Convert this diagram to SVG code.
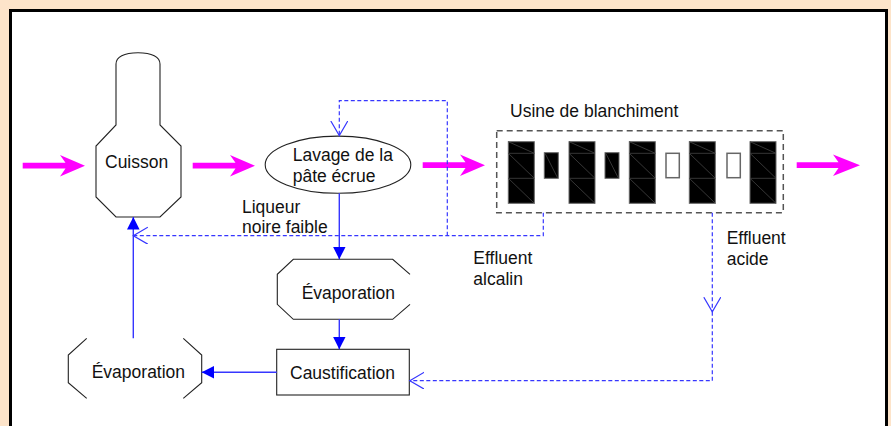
<svg xmlns="http://www.w3.org/2000/svg" width="891" height="426" viewBox="0 0 891 426">
<style>
text{font-family:"Liberation Sans",Arial,sans-serif;font-size:17.5px;fill:#111}
.shape{fill:#fff;stroke:#222;stroke-width:1.1}
.open{fill:none;stroke:#222;stroke-width:1.1}
.solid{fill:none;stroke:#3636ff;stroke-width:1.4}
.dash{fill:none;stroke:#3636ff;stroke-width:1.2;stroke-dasharray:4,2.5}
.mag{fill:#ff00ff}
.big{fill:#000;stroke:#666;stroke-width:1}
.inner{stroke:#444;stroke-width:0.8;fill:none}
.white{fill:#fff;stroke:#666;stroke-width:1.5}
</style>
<defs>
<marker id="fa" markerUnits="userSpaceOnUse" markerWidth="14" markerHeight="14" refX="12.5" refY="6.3" orient="auto">
<path d="M0,0 L12.5,6.3 L0,12.6 Z" fill="#0000ff"/>
</marker>
<marker id="oa" markerUnits="userSpaceOnUse" markerWidth="18" markerHeight="20" refX="14.5" refY="8.5" orient="auto">
<path d="M0,0 L14.5,8.5 L0,17" fill="none" stroke="#3636ff" stroke-width="1.2"/>
</marker>
</defs>
<rect x="0" y="0" width="891" height="426" fill="#fde4ca"/>
<rect x="10.5" y="10.5" width="876" height="440" fill="#fff" stroke="#000" stroke-width="3"/>

<g id="cuisson">
<path class="shape" d="M116,125 L116,64 C116,57 124,52.7 138,52.7 C152,52.7 160,57 160,64 L160,125 L181,146 L181,197 L160,217 L116,217 L96,197 L96,146 Z"/>
<text x="105" y="167.5">Cuisson</text>
</g>
<g id="lavage">
<ellipse class="shape" cx="338" cy="164.7" rx="72.8" ry="28.6"/>
<text x="292.7" y="161">Lavage de la</text>
<text x="292.7" y="181.5">pâte écrue</text>
</g>
<g id="evaporation1">
<path class="open" d="M410,274.3 L392.7,259.3 L293.3,259.3 L277.3,274.3 L277.3,304.3 L293.3,319.3 L392.7,319.3 L410,304.3"/>
<text x="301.7" y="298.5">Évaporation</text>
</g>
<g id="caustification">
<rect class="shape" x="276.7" y="349.3" width="132.6" height="45.7"/>
<text x="290" y="379.3">Caustification</text>
</g>
<g id="evaporation2">
<path class="open" d="M86.7,338.3 L68.3,355 L68.3,382.7 L86.7,398.3"/>
<path class="open" d="M183.3,338.3 L201.7,355 L201.7,382.7 L183.3,398.3"/>
<text x="91.7" y="377.7">Évaporation</text>
</g>
<g id="usine">
<text x="510" y="117.3">Usine de blanchiment</text>
<rect x="496.7" y="130.7" width="286.6" height="82" fill="none" stroke="#555" stroke-width="1.5" stroke-dasharray="6,4"/>
<g id="big1" transform="translate(508.3,141.7)">
<rect class="big" width="26" height="61.6"/>
<path class="inner" d="M0,11.6 H26 M0,36.6 H26 M0,0 L26,11.6 M0,11.6 L26,36.6 M0,36.6 L26,61.6"/>
</g>
<g id="big2" transform="translate(569,141.7)">
<rect class="big" width="26" height="61.6"/>
<path class="inner" d="M0,11.6 H26 M0,36.6 H26 M0,0 L26,11.6 M0,11.6 L26,36.6 M0,36.6 L26,61.6"/>
</g>
<g id="big3" transform="translate(629.3,141.7)">
<rect class="big" width="26" height="61.6"/>
<path class="inner" d="M0,11.6 H26 M0,36.6 H26 M0,0 L26,11.6 M0,11.6 L26,36.6 M0,36.6 L26,61.6"/>
</g>
<g id="big4" transform="translate(689.3,141.7)">
<rect class="big" width="26" height="61.6"/>
<path class="inner" d="M0,11.6 H26 M0,36.6 H26 M0,0 L26,11.6 M0,11.6 L26,36.6 M0,36.6 L26,61.6"/>
</g>
<g id="big5" transform="translate(750,141.7)">
<rect class="big" width="26" height="61.6"/>
<path class="inner" d="M0,11.6 H26 M0,36.6 H26 M0,0 L26,11.6 M0,11.6 L26,36.6 M0,36.6 L26,61.6"/>
</g>
<g id="small1" transform="translate(544.3,152.7)">
<rect class="big" width="14" height="25.6"/>
<path class="inner" d="M1,1 L13,24.6"/>
</g>
<g id="small2" transform="translate(605,152.7)">
<rect class="big" width="14" height="25.6"/>
<path class="inner" d="M1,1 L13,24.6"/>
</g>
<rect id="small3" class="white" x="666" y="153.3" width="13.3" height="24.4"/>
<rect id="small4" class="white" x="727" y="153.3" width="13.3" height="24.4"/>
</g>

<g id="labels">
<text x="242" y="212.7">Liqueur</text>
<text x="242" y="233.3">noire faible</text>
<text x="473.3" y="264.3">Effluent</text>
<text x="473.3" y="285">alcalin</text>
<text x="726.7" y="244.3">Effluent</text>
<text x="726.7" y="265">acide</text>
</g>

<g id="connectors">
<path class="mag" d="M22.7,162.8 H65.5 L60,155 L85,165.7 L60,176.5 L65.5,168.5 H22.7 Z"/>
<path class="mag" d="M192.7,162.8 H235.5 L230,155 L255,165.7 L230,176.5 L235.5,168.5 H192.7 Z"/>
<path class="mag" d="M422.7,162.3 H465.5 L460,154.5 L485,165.2 L460,176 L465.5,168 H422.7 Z"/>
<path class="mag" d="M796.7,162.3 H838.5 L833,154.5 L860,165.2 L833,176 L838.5,168 H796.7 Z"/>
<path class="solid" d="M339.3,193.3 V259.3" marker-end="url(#fa)"/>
<path class="solid" d="M339.3,319.3 V349.3" marker-end="url(#fa)"/>
<path class="solid" d="M276.7,372.3 H201.7" marker-end="url(#fa)"/>
<path class="solid" d="M133.3,338.3 V217" marker-end="url(#fa)"/>
<path class="dash" d="M543.3,212.7 V235.7 H133.3" marker-end="url(#oa)"/>
<path class="dash" d="M447.3,235.7 V100.7 H339.3 V135.5" marker-end="url(#oa)"/>
<path class="dash" d="M712.3,212.7 V311.7" marker-end="url(#oa)"/>
<path class="dash" d="M712.3,311.7 V380.7 H409.8" marker-end="url(#oa)"/>
</g>
</svg>
